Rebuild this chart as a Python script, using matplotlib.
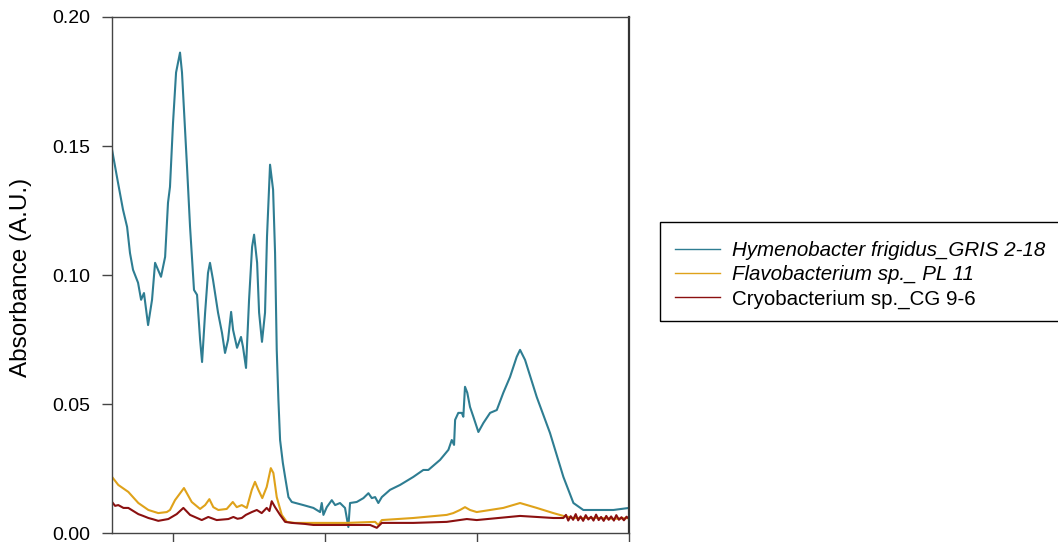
import matplotlib.pyplot as plt
from matplotlib.lines import Line2D
from matplotlib.patches import Rectangle

plt.rcParams['font.family'] = ['Liberation Sans', 'DejaVu Sans']

# Спектры поглощения пигментов (длина волны, нм / поглощение)
hym_wl = [260.0, 263.9, 267.2, 269.9, 271.8, 273.8, 277.1, 279.1, 281.0, 283.7,
          286.3, 288.3, 292.2, 294.9, 296.8, 298.1, 300.1, 302.1, 304.7, 306.0,
          309.3, 311.3, 313.9, 315.9, 317.9, 319.2, 321.2, 323.1, 324.4, 326.4,
          329.7, 332.3, 334.3, 336.3, 338.3, 339.6, 342.2, 344.8, 346.1, 348.1,
          350.1, 352.1, 353.4, 355.4, 356.7, 358.6, 360.6, 361.9, 363.9, 365.9,
          367.2, 368.3, 369.4, 370.5, 372.3, 373.8, 376.0, 378.2, 385.8, 392.4,
          396.8, 397.9, 399.0, 401.2, 404.5, 406.7, 409.9, 413.2, 415.4, 416.5,
          420.9, 425.3, 428.6, 430.8, 433.0, 435.1, 437.4, 442.8, 449.4, 458.1,
          464.7, 468.0, 475.7, 481.2, 483.4, 484.9, 485.6, 487.7, 490.0, 491.0,
          492.1, 493.6, 495.4, 497.6, 500.9, 504.2, 508.6, 513.0, 517.3, 521.7,
          526.1, 528.3, 531.6, 539.3, 548.0, 556.8, 563.4, 569.9, 578.7, 589.7,
          600.0]
hym_abs = [0.1486, 0.1359, 0.1254, 0.1187, 0.1086, 0.1021, 0.0971, 0.0905, 0.0931, 0.0807,
           0.0905, 0.1048, 0.0994, 0.1071, 0.1281, 0.1342, 0.1590, 0.1785, 0.1862, 0.1785,
           0.1420, 0.1187, 0.0943, 0.0924, 0.0750, 0.0664, 0.0855, 0.1009, 0.1048, 0.0982,
           0.0855, 0.0777, 0.0699, 0.0750, 0.0858, 0.0788, 0.0719, 0.0761, 0.0723, 0.0641,
           0.0905, 0.1110, 0.1157, 0.1048, 0.0855, 0.0742, 0.0855, 0.1149, 0.1428, 0.1331,
           0.1086, 0.0711, 0.0517, 0.0362, 0.0274, 0.0219, 0.0141, 0.0122, 0.0110, 0.0099,
           0.0083, 0.0118, 0.0072, 0.0102, 0.0129, 0.0110, 0.0118, 0.0099, 0.0025, 0.0118,
           0.0122, 0.0137, 0.0156, 0.0137, 0.0141, 0.0118, 0.0141, 0.0169, 0.0188, 0.0219,
           0.0246, 0.0246, 0.0285, 0.0324, 0.0362, 0.0343, 0.0440, 0.0467, 0.0467, 0.0452,
           0.0568, 0.0545, 0.0490, 0.0452, 0.0393, 0.0428, 0.0467, 0.0478, 0.0545, 0.0606,
           0.0684, 0.0711, 0.0672, 0.0528, 0.0389, 0.0219, 0.0118, 0.0091, 0.0091, 0.0091,
           0.0099]

flavo_wl = [260.0, 264.1, 270.7, 277.3, 283.9, 290.4, 296.0, 298.1, 301.4, 307.3,
            312.4, 317.9, 321.2, 324.0, 326.6, 329.9, 335.4, 339.4, 342.0, 345.3,
            348.6, 351.9, 354.0, 356.2, 358.8, 361.7, 364.4, 366.1, 368.3, 371.6,
            374.9, 380.3, 386.9, 414.3, 433.0, 435.1, 437.4, 458.1, 480.1, 484.4,
            488.8, 492.1, 495.4, 499.8, 508.6, 517.3, 528.3, 539.3, 550.2, 556.8,
            563.4, 580.9, 590.0, 600.0]
flavo_abs = [0.0219, 0.0188, 0.0161, 0.0118, 0.0091, 0.0079, 0.0083, 0.0091, 0.0129, 0.0176,
             0.0122, 0.0095, 0.0110, 0.0133, 0.0102, 0.0091, 0.0095, 0.0122, 0.0102, 0.0110,
             0.0099, 0.0169, 0.0200, 0.0169, 0.0137, 0.0180, 0.0253, 0.0234, 0.0141, 0.0072,
             0.0045, 0.0041, 0.0041, 0.0041, 0.0045, 0.0033, 0.0052, 0.0060, 0.0072, 0.0079,
             0.0091, 0.0102, 0.0091, 0.0083, 0.0091, 0.0099, 0.0118, 0.0099, 0.0079, 0.0068,
             0.0060, 0.0060, 0.0057, 0.0060]

cryo_wl = [260.0, 262.0, 264.1, 267.5, 270.7, 274.0, 277.3, 280.5, 283.9, 287.0,
           290.4, 297.0, 302.5, 306.9, 311.3, 319.0, 323.3, 328.8, 336.5, 339.8,
           342.5, 345.3, 348.0, 351.9, 355.2, 358.4, 361.7, 363.5, 365.0, 367.2,
           370.5, 373.8, 378.2, 386.9, 392.4, 429.7, 434.1, 437.4, 458.1, 480.1,
           493.3, 499.8, 528.3, 550.2, 556.8, 558.5, 560.0, 561.6, 563.2, 564.9,
           566.5, 568.1, 569.8, 571.5, 573.2, 575.0, 576.6, 578.3, 580.0, 581.6,
           583.3, 585.0, 586.6, 588.2, 590.0, 591.6, 593.3, 595.0, 596.6, 598.3,
           600.0]
cryo_abs = [0.0122, 0.0107, 0.0110, 0.0099, 0.0099, 0.0087, 0.0075, 0.0068, 0.0060, 0.0055,
            0.0049, 0.0056, 0.0075, 0.0099, 0.0072, 0.0052, 0.0064, 0.0052, 0.0056, 0.0064,
            0.0057, 0.0060, 0.0072, 0.0083, 0.0091, 0.0079, 0.0099, 0.0087, 0.0125, 0.0102,
            0.0072, 0.0045, 0.0041, 0.0037, 0.0033, 0.0033, 0.0022, 0.0041, 0.0041, 0.0045,
            0.0056, 0.0052, 0.0068, 0.0060, 0.0060, 0.0072, 0.0050, 0.0067, 0.0053, 0.0075,
            0.0051, 0.0066, 0.0049, 0.0071, 0.0054, 0.0065, 0.0050, 0.0073, 0.0052, 0.0064,
            0.0049, 0.0068, 0.0053, 0.0066, 0.0050, 0.0071, 0.0053, 0.0063, 0.0051, 0.0065,
            0.0057]

labels = ['Hymenobacter frigidus_GRIS 2-18', 'Flavobacterium sp._ PL 11', 'Cryobacterium sp._CG 9-6']
colors = ['#2E7D92', '#DFA21A', '#8B1010']

fig = plt.figure(figsize=(10.58, 5.42), dpi=100)
ax = fig.add_axes([0.1059, 0.0157, 0.4887, 0.9530])

ax.plot(hym_wl, hym_abs, color=colors[0], linewidth=1.5)
ax.plot(flavo_wl, flavo_abs, color=colors[1], linewidth=1.5)
ax.plot(cryo_wl, cryo_abs, color=colors[2], linewidth=1.5)

ax.set_xlim(260, 600)
ax.set_ylim(0, 0.20)
ax.set_xticks([300, 400, 500, 600])
ax.set_yticks([0.00, 0.05, 0.10, 0.15, 0.20])
ax.yaxis.set_major_formatter(plt.FormatStrFormatter('%.2f'))
ax.tick_params(axis='y', direction='out', length=7.5, width=1.0, color='#444444',
               labelsize=14, pad=8)
ax.tick_params(axis='x', direction='out', length=7.5, width=1.0, color='#444444',
               labelbottom=False)
for side in ['left', 'bottom', 'top']:
    ax.spines[side].set_color('#444444')
    ax.spines[side].set_linewidth(1.0)
ax.spines['right'].set_color('#333333')
ax.spines['right'].set_linewidth(1.6)

fig.text(21 / 1058, 1 - 277 / 542, 'Absorbance (A.U.)', rotation=90,
         ha='center', va='center', fontsize=17.5)

# Легенда: рамка отдельным прямоугольником, уходит за правый край
handles = [Line2D([], [], color=c, linewidth=1.0) for c in colors]
leg = fig.legend(handles, labels, loc='upper left',
                 bbox_to_anchor=(675 / 1058, 1 - 241 / 542), borderaxespad=0,
                 borderpad=0, frameon=False, fontsize=14.8, handlelength=2.2,
                 handletextpad=0.55, labelspacing=0.26)
leg.get_texts()[0].set_style('italic')
leg.get_texts()[1].set_style('italic')
fig.patches.append(Rectangle((660 / 1058, 1 - 321 / 542), 420 / 1058, 99 / 542,
                             transform=fig.transFigure, fill=False,
                             edgecolor='black', linewidth=1.0))

plt.savefig('out.png', dpi=100)
